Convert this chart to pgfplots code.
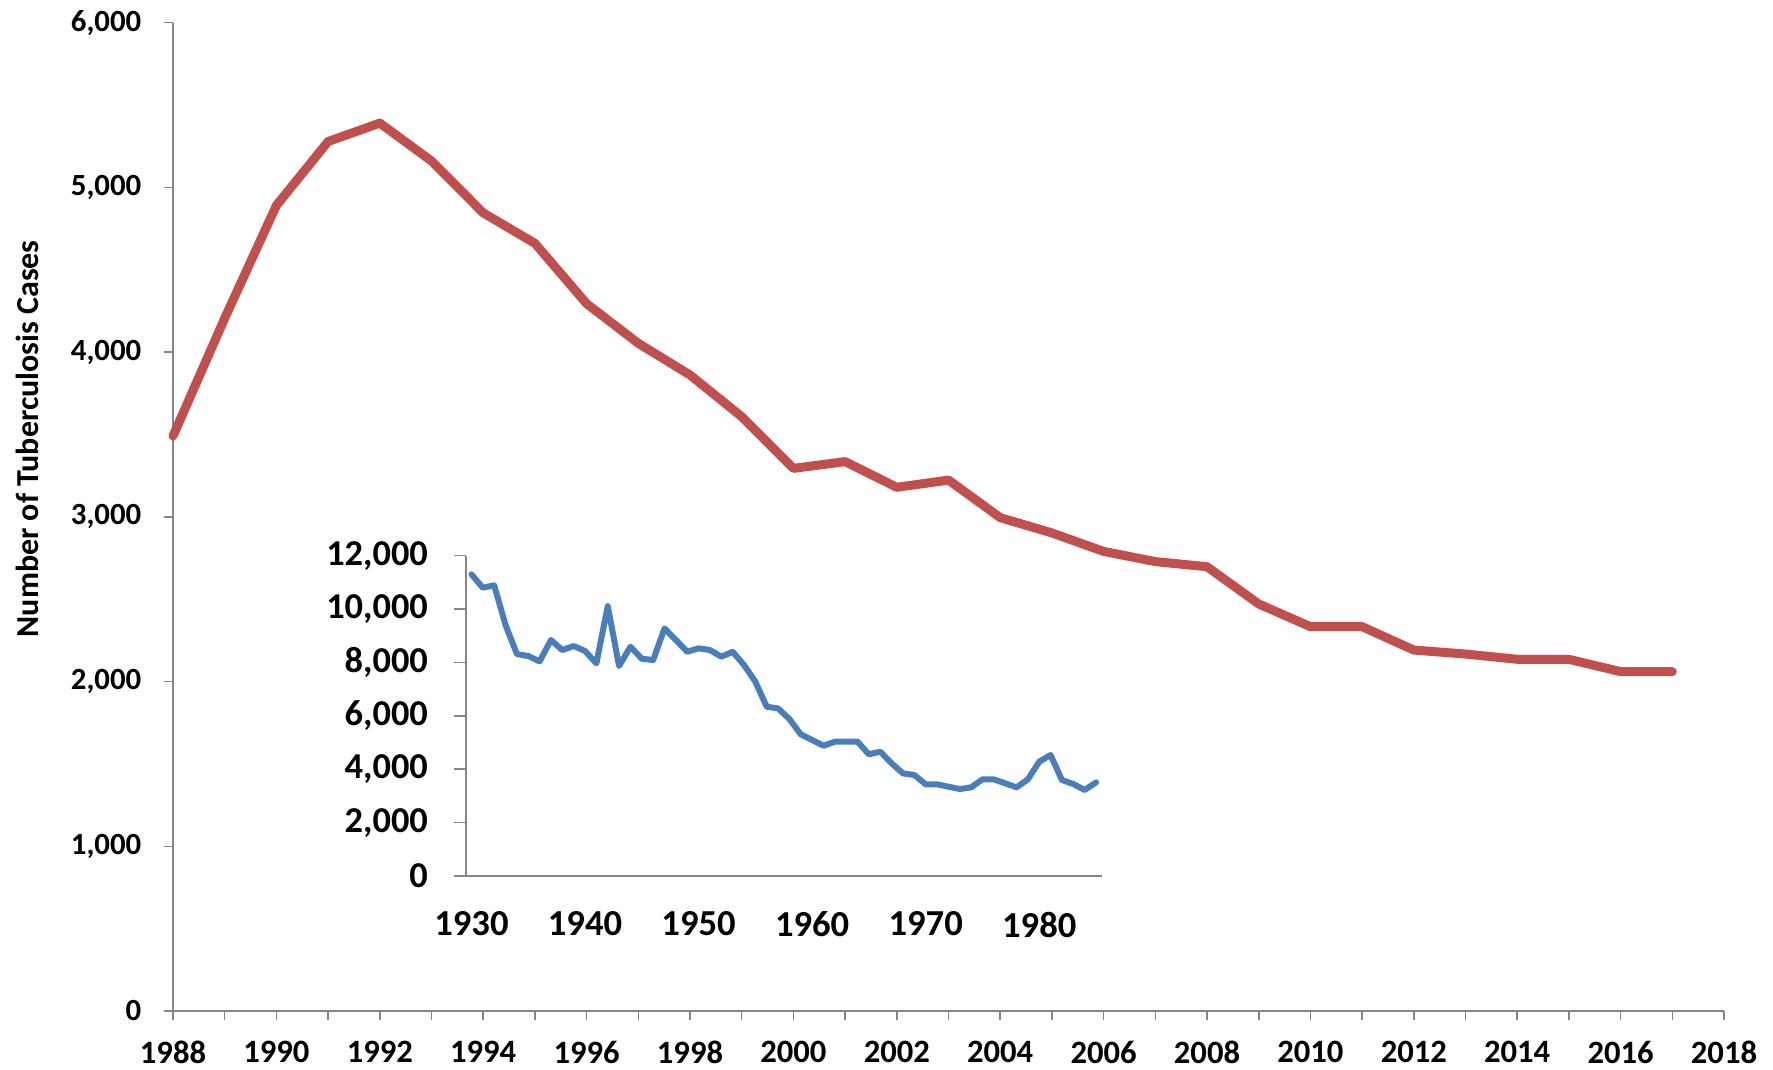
\documentclass[border=0pt]{standalone}
\usepackage{fontspec}
\setmainfont{Carlito}
\usepackage{pgfplots}
\pgfplotsset{compat=1.18}
\definecolor{tbred}{HTML}{C0504D}
\definecolor{tbblue}{HTML}{4A7EBB}
\definecolor{axgray}{HTML}{868686}
\begin{document}
\begin{tikzpicture}
\path[use as bounding box] (0,0) rectangle (886.5pt,535pt);
\begin{axis}[
  at={(86.5pt,29.5pt)}, anchor=south west,
  scale only axis, width=775.5pt, height=494.2pt,
  xmin=1988, xmax=2018, ymin=0, ymax=6000,
  axis x line*=bottom, axis y line*=left,
  axis line style={axgray, line width=0.75pt, -},
  tick style={axgray, line width=0.75pt},
  tick align=outside,
  major tick length=4.5pt, minor tick length=4.5pt,
  xtick={1988,1990,...,2018}, minor xtick={1989,1991,...,2017},
  ytick={0,1000,...,6000},
  scaled y ticks=false,
  /pgf/number format/assume math mode=true,
  xticklabel style={/pgf/number format/1000 sep={}, font=\bfseries\fontsize{16.3}{18}\selectfont, anchor=north, inner sep=0pt, yshift=-10.5pt},
  yticklabel style={/pgf/number format/1000 sep={,}, font=\bfseries\fontsize{15.4}{17}\selectfont, anchor=east, inner sep=0pt, xshift=-11.15pt},
  ylabel={Number of Tuberculosis Cases},
  ylabel style={font=\bfseries\fontsize{16}{17}\selectfont, at={(axis description cs:-0.0941,0.579)}, rotate=0, anchor=center},
  clip=false,
]
\addplot[tbred, line width=4.5pt, line join=round, line cap=round] coordinates {
(1988,3490) (1989,4205) (1990,4890) (1991,5278) (1992,5390) (1993,5160)
(1994,4845) (1995,4660) (1996,4294) (1997,4053) (1998,3861) (1999,3608)
(2000,3294) (2001,3335) (2002,3179) (2003,3223) (2004,2995) (2005,2902)
(2006,2790) (2007,2728) (2008,2697) (2009,2471) (2010,2333) (2011,2333)
(2012,2191) (2013,2167) (2014,2135) (2015,2135) (2016,2060) (2017,2060)
};
\end{axis}
\begin{axis}[
  at={(232.9pt,97pt)}, anchor=south west,
  scale only axis, width=317.95pt, height=160.15pt,
  xmin=1929.5, xmax=1985.5, ymin=0, ymax=12000,
  axis x line*=bottom, axis y line*=left,
  axis line style={axgray, line width=0.75pt, -},
  tick style={axgray, line width=0.75pt},
  tick align=outside,
  xtick={1930,1940,...,1980}, ytick={0,2000,...,12000},
  scaled y ticks=false,
  x tick style={draw=none},
  major tick length=5.8pt,
  /pgf/number format/assume math mode=true,
  xticklabel style={/pgf/number format/1000 sep={}, font=\bfseries\fontsize{18.3}{20}\selectfont, anchor=north, inner sep=0pt, yshift=-12pt},
  yticklabel style={/pgf/number format/1000 sep={,}, font=\bfseries\fontsize{18.2}{20}\selectfont, anchor=east, inner sep=0pt, xshift=-12.95pt},
  clip=false,
]
\addplot[tbblue, line width=3pt, line join=round, line cap=round] coordinates {
(1930,11300) (1931,10800) (1932,10890) (1933,9400) (1934,8315) (1935,8240)
(1936,8040) (1937,8840) (1938,8465) (1939,8615) (1940,8430) (1941,7965)
(1942,10110) (1943,7865) (1944,8590) (1945,8140) (1946,8090) (1947,9275)
(1948,8840) (1949,8400) (1950,8530) (1951,8465) (1952,8215) (1953,8400)
(1954,7905) (1955,7280) (1956,6340) (1957,6280) (1958,5880) (1959,5306)
(1960,5094) (1961,4881) (1962,5031) (1963,5031) (1964,5031) (1965,4557)
(1966,4657) (1967,4220) (1968,3845) (1969,3783) (1970,3433) (1971,3433)
(1972,3346) (1973,3258) (1974,3321) (1975,3621) (1976,3621) (1977,3471)
(1978,3321) (1979,3621) (1980,4282) (1981,4532) (1982,3596) (1983,3446)
(1984,3221) (1985,3508)
};
\end{axis}
\end{tikzpicture}
\end{document}
